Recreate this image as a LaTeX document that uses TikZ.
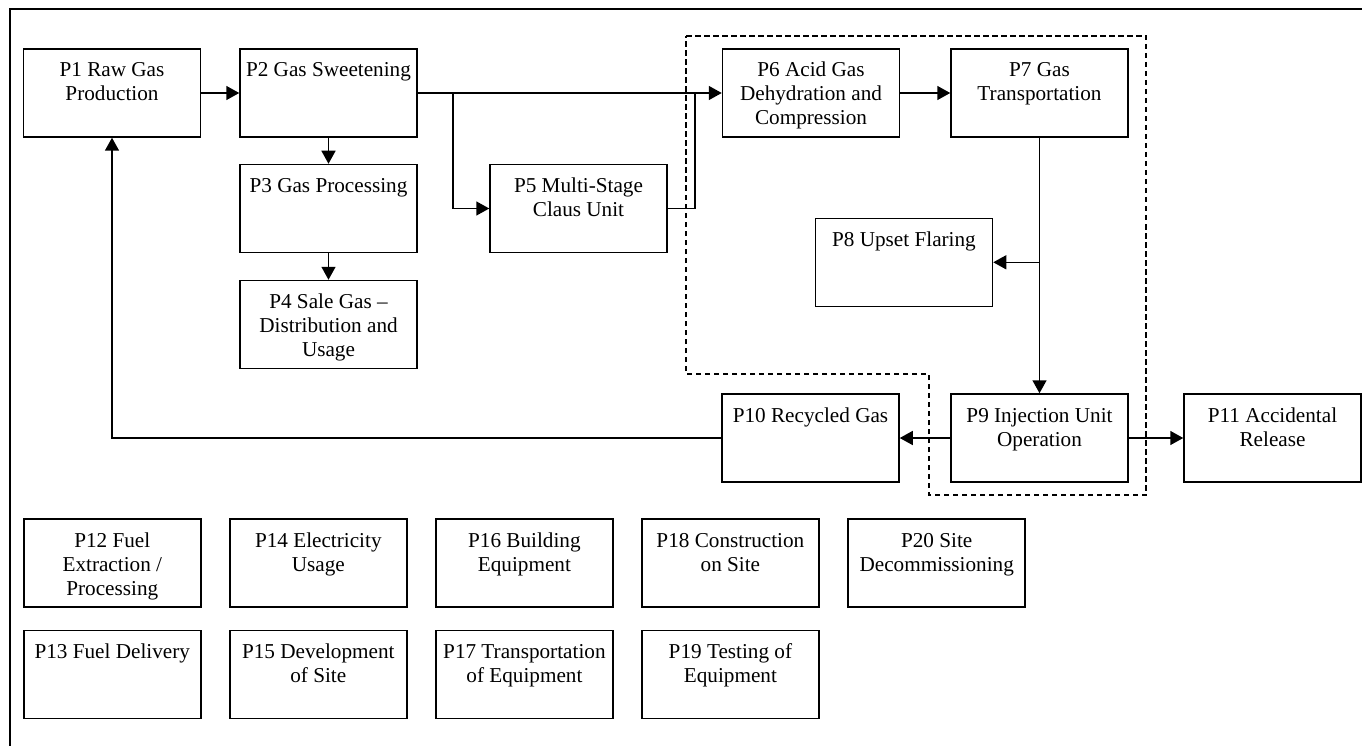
\documentclass[tikz,border=0pt]{standalone}
\usepackage{fontspec}
\setmainfont{Liberation Serif}
\usetikzlibrary{arrows.meta}
\newcommand\bxtext[1]{\parbox[c][88pt][t]{177pt}{\centering\rule{0pt}{28pt}#1}}
\begin{document}
\begin{tikzpicture}[x=1pt,y=-1pt,
  pbox/.style={draw,line width=1.5pt,inner sep=0pt,minimum width=177pt,minimum height=88pt,
    font=\fontsize{21.2}{24}\selectfont},
  conn/.style={line width=1.5pt},
  arr/.style={conn,-{Triangle[length=13pt,width=14pt]}},
  bound/.style={line width=1.4pt,dash pattern=on 5.5pt off 3.5pt}]
\useasboundingbox (0,0) rectangle (1362,746);
% outer frame (only top and left sides visible)
\draw[line width=1.5pt] (10,760) -- (10,9) -- (1380,9);
% dashed system boundary
\draw[bound] (686,36) -- (1146,36) -- (1146,495) -- (929,495) -- (929,374) -- (686,374) -- cycle;
% process boxes
\node[pbox] (p1) at (112,93) {\bxtext{P1 Raw Gas\\Production}};
\node[pbox] (p2) at (328.5,93) {\bxtext{P2 Gas Sweetening}};
\node[pbox] (p3) at (328.5,208.5) {\bxtext{P3 Gas Processing}};
\node[pbox] (p4) at (328.5,324.5) {\bxtext{P4 Sale Gas --\\Distribution and\\Usage}};
\node[pbox] (p5) at (578.5,208.5) {\bxtext{P5 Multi-Stage\\Claus Unit}};
\node[pbox] (p6) at (811,93) {\bxtext{P6 Acid Gas\\Dehydration and\\Compression}};
\node[pbox] (p7) at (1039.5,93) {\bxtext{P7 Gas\\Transportation}};
\node[pbox] (p8) at (904,262.3) {\bxtext{P8 Upset Flaring}};
\node[pbox] (p9) at (1039.5,438) {\bxtext{P9 Injection Unit\\Operation}};
\node[pbox] (p10) at (810.5,438) {\bxtext{P10 Recycled Gas}};
\node[pbox] (p11) at (1272.5,438) {\bxtext{P11 Accidental\\Release}};
% unconnected processes
\node[pbox] (p12) at (112.3,563) {\bxtext{P12 Fuel\\Extraction /\\Processing}};
\node[pbox] (p13) at (112.3,674.3) {\bxtext{P13 Fuel Delivery}};
\node[pbox] (p14) at (318.3,563) {\bxtext{P14 Electricity\\Usage}};
\node[pbox] (p15) at (318.3,674.3) {\bxtext{P15 Development\\of Site}};
\node[pbox] (p16) at (524.4,563) {\bxtext{P16 Building\\Equipment}};
\node[pbox] (p17) at (524.4,674.3) {\bxtext{P17 Transportation\\of Equipment}};
\node[pbox] (p18) at (730.4,563) {\bxtext{P18 Construction\\on Site}};
\node[pbox] (p19) at (730.4,674.3) {\bxtext{P19 Testing of\\Equipment}};
\node[pbox] (p20) at (936.7,563) {\bxtext{P20 Site\\Decommissioning}};
% junction points
\coordinate (b1) at (453,93);
\coordinate (j1) at (695,93);
% connectors
\draw[arr] (p1.east) -- (p2.west);
\draw[arr] (p2.south) -- (p3.north);
\draw[arr] (p3.south) -- (p4.north);
\draw[arr] (p2.east) -- (p6.west);
\draw[arr] (b1) |- (p5.west);
\draw[conn] (p5.east) -| (j1);
\draw[arr] (p6.east) -- (p7.west);
\draw[arr] (p7.south) -- (p9.north);
\draw[arr] (p7.south |- p8.east) -- (p8.east);
\draw[arr] (p9.west) -- (p10.east);
\draw[arr] (p9.east) -- (p11.west);
\draw[arr] (p10.west) -| (p1.south);
\end{tikzpicture}
\end{document}
